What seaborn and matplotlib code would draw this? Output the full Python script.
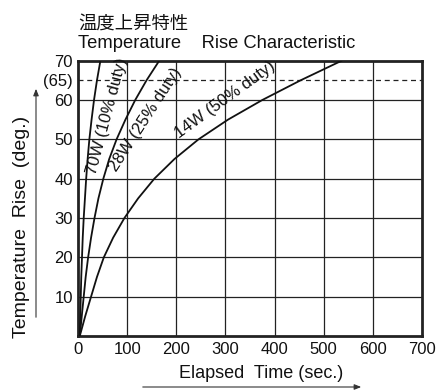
import matplotlib
matplotlib.use('Agg')
import matplotlib.pyplot as plt
import pandas as pd
import seaborn as sns

# Elapsed time (sec.) vs temperature rise (deg.)
temp_steps = [0, 5, 10, 15, 20, 25, 30, 35, 40, 45, 50, 55, 60, 65, 70]
time_70w = [3, 4, 5, 6, 7.5, 9, 11, 13.5, 16, 19, 22.5, 27, 32, 38, 45]
time_28w = [3, 7, 11, 15, 20, 26, 33, 41, 51, 63, 78, 96, 116, 139, 165]
time_14w = [3, 14, 26, 38, 52, 71, 94, 122, 155, 196, 245, 305, 375, 453, 537]

series_labels = ['70W (10% duty)', '28W (25% duty)', '14W (50% duty)']

x_ticks = [0, 100, 200, 300, 400, 500, 600, 700]
y_ticks = [10, 20, 30, 40, 50, 60, 65, 70]
y_tick_labels = ['10', '20', '30', '40', '50', '60', '(65)', '70']
grid_x = [100, 200, 300, 400, 500, 600]
grid_y = [10, 20, 30, 40, 50, 60]
limit_temp = 65

df = pd.concat([
    pd.DataFrame({'t': time_70w, 'T': temp_steps, 'serie': series_labels[0]}),
    pd.DataFrame({'t': time_28w, 'T': temp_steps, 'serie': series_labels[1]}),
    pd.DataFrame({'t': time_14w, 'T': temp_steps, 'serie': series_labels[2]}),
])

sns.set_theme(style='white')
plt.rcParams['font.family'] = ['Liberation Sans', 'Noto Sans CJK JP', 'DejaVu Sans']

fig = plt.figure(figsize=(4.39, 3.92), dpi=100)
ax = fig.add_axes([0.1784, 0.1429, 0.7822, 0.7023])

for gx in grid_x:
    ax.axvline(gx, color='#222222', lw=0.9, zorder=1)
for gy in grid_y:
    ax.axhline(gy, color='#222222', lw=0.9, zorder=1)
ax.axhline(limit_temp, color='#222222', lw=0.9, ls=(0, (4, 3)), zorder=1)

sns.lineplot(data=df, x='t', y='T', hue='serie', units='serie', estimator=None,
             sort=False, palette=['#111111'] * 3, linewidth=1.3, legend=False, ax=ax,
             zorder=3)

ax.set_xlim(0, 700)
ax.set_ylim(0, 70)
ax.set_xticks(x_ticks)
ax.set_xticklabels([str(v) for v in x_ticks], fontsize=12)
ax.set_yticks(y_ticks)
ax.set_yticklabels(y_tick_labels, fontsize=12)
ax.tick_params(length=0, pad=4, colors='#111111')
ax.set_xlabel('')
ax.set_ylabel('')
for sp in ax.spines.values():
    sp.set_linewidth(2.0)
    sp.set_color('#222222')

# curve labels
ax.text(58, 56, '70W (10% duty)', rotation=75, rotation_mode='anchor',
        ha='center', va='center', fontsize=12, color='#111111')
ax.text(137, 55, '28W (25% duty)', rotation=57, rotation_mode='anchor',
        ha='center', va='center', fontsize=12, color='#111111')
ax.text(300, 60, '14W (50% duty)', rotation=36, rotation_mode='anchor',
        ha='center', va='center', fontsize=12, color='#111111')

# titles
fig.text(78 / 439, 1 - 24 / 392, '温度上昇特性', fontsize=13.2, ha='left', va='center',
         color='#111111')
fig.text(78 / 439, 1 - 43 / 392, 'Temperature    Rise Characteristic', fontsize=13.2,
         ha='left', va='center', color='#111111')

# axis titles with arrows
fig.text(22 / 439, 1 - 227 / 392, 'Temperature  Rise  (deg.)', rotation=90, fontsize=14,
         ha='center', va='center', color='#111111')
fig.text(261 / 439, 1 - 374 / 392, 'Elapsed  Time (sec.)', fontsize=13,
         ha='center', va='center', color='#111111')
fig.add_artist(matplotlib.patches.FancyArrowPatch(
    (36 / 439, 1 - 320 / 392), (36 / 439, 1 - 86 / 392), transform=fig.transFigure,
    arrowstyle='-|>,head_length=4,head_width=1.6', color='#333333', lw=0.8,
    mutation_scale=1))
fig.add_artist(matplotlib.patches.FancyArrowPatch(
    (140 / 439, 1 - 387 / 392), (364 / 439, 1 - 387 / 392), transform=fig.transFigure,
    arrowstyle='-|>,head_length=4,head_width=1.6', color='#333333', lw=0.8,
    mutation_scale=1))

fig.savefig('out.png', dpi=100)
